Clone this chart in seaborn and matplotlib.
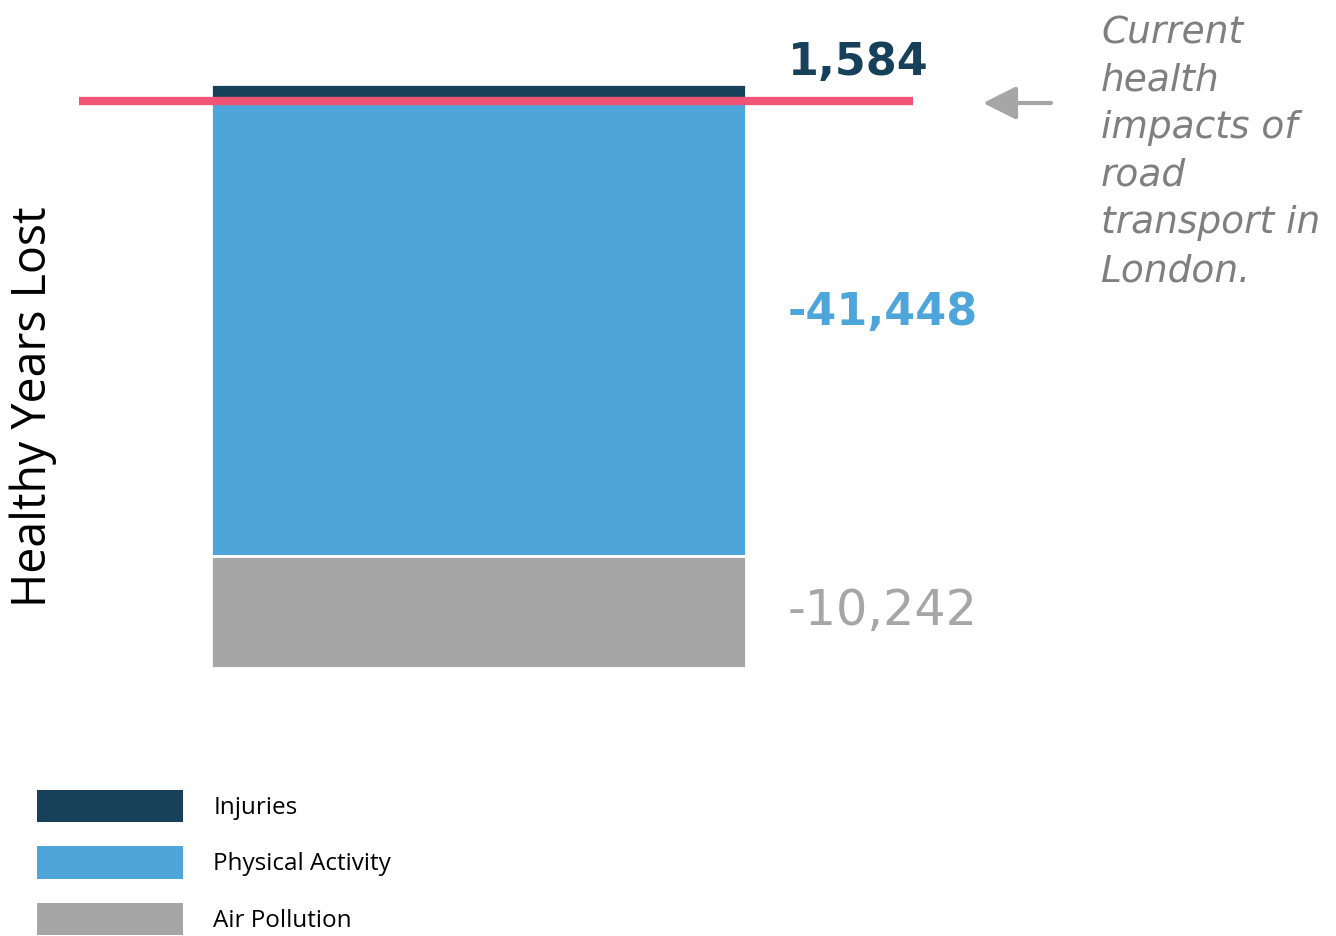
import matplotlib
matplotlib.use("Agg")
import matplotlib.pyplot as plt
import matplotlib.patches as mpatches
import seaborn as sns
import pandas as pd
import numpy as np

# Health impact components (healthy years lost)
components = ["Injuries", "Physical Activity", "Air Pollution"]
values = [1584, -41448, -10242]
colors = ["#17405B", "#4DA5DA", "#A6A6A6"]
value_labels = ["1,584", "-41,448", "-10,242"]
note_lines = ["Current", "health", "impacts of", "road", "transport in", "London."]
ylabel = "Healthy Years Lost"

# stacking: positives grow up from zero, negatives grow down from zero
vals = np.array(values, dtype=float)
pos_base = np.concatenate([[0], np.cumsum(np.clip(vals, 0, None))[:-1]])
neg_base = np.concatenate([[0], np.cumsum(np.clip(vals, None, 0))[:-1]])
bottoms = np.where(vals >= 0, pos_base, neg_base)

df = pd.DataFrame({"group": ["London"] * len(components),
                   "component": components,
                   "value": vals,
                   "bottom": bottoms})

sns.set_theme(style="white")
plt.rcParams["font.family"] = ["DejaVu Sans"]

W, H = 1336, 936
fig = plt.figure(figsize=(W / 100, H / 100), dpi=100)
fig.patch.set_facecolor("white")

ax = fig.add_axes([79 / W, 1 - 668 / H, 834 / W, 584 / H])
for i, row in df.iterrows():
    sns.barplot(data=df.iloc[[i]], x="group", y="value", bottom=row["bottom"],
                color=colors[i], saturation=1, width=0.8, edgecolor="white",
                linewidth=2, errorbar=None, ax=ax)

top = (df["bottom"] + df["value"]).max()
low = (df["bottom"] + df["value"]).min()
ax.set_ylim(low, top)
ax.set_xlim(-0.597, 0.650)
ax.axhline(0, color="#EF5474", lw=6, zorder=5)
ax.set_axis_off()

# value labels to the right of the bar
bars = [c.patches[0] for c in ax.containers]
offsets = [6.5, 2.6, -9.4]
for bar, lab, col, off, v in zip(bars, value_labels, colors, offsets, vals):
    xr = bar.get_x() + bar.get_width()
    y0, y1 = bar.get_y(), bar.get_y() + bar.get_height()
    anchor = max(y0, y1) if v > 0 and abs(v) < 5000 else (y0 + y1) / 2
    bold = col != colors[2]
    ax.annotate(lab, xy=(xr, anchor), xytext=(30, off), textcoords="offset points",
                ha="left", va="baseline", color=col,
                fontsize=32 if bold else 35.5,
                fontweight="bold" if bold else "normal",
                annotation_clip=False)

# y axis title
fig.text(33 / W, 1 - 407 / H, ylabel, rotation=90, ha="center", va="center",
         fontsize=33.5, color="black", family=["Open Sans", "DejaVu Sans"])

# side note with arrow pointing at the reference line
for k, line in enumerate(note_lines):
    fig.text(1101 / W, 1 - (43 + 47.6 * k) / H, line, ha="left", va="baseline",
             fontsize=27, style="italic", color="#7F7F7F")
ax.annotate("", xy=(983, H - 103), xycoords="figure pixels",
            xytext=(1051, H - 103), textcoords="figure pixels",
            arrowprops=dict(arrowstyle="-|>,head_length=1.7,head_width=0.85",
                            color="#A6A6A6", lw=3, shrinkA=0, shrinkB=0))

# legend
handles = [mpatches.Patch(facecolor=c, edgecolor="none") for c in colors]
fig.legend(handles, components, loc="upper left",
           bbox_to_anchor=(37 / W, 1 - 790 / H), bbox_transform=fig.transFigure,
           frameon=False, borderpad=0, borderaxespad=0,
           handlelength=6.0, handleheight=1.66, labelspacing=1.0,
           handletextpad=1.25, labelcolor="black",
           prop={"family": ["Open Sans", "DejaVu Sans"], "size": 17.5})

fig.savefig("out.png", dpi=100, facecolor="white")
